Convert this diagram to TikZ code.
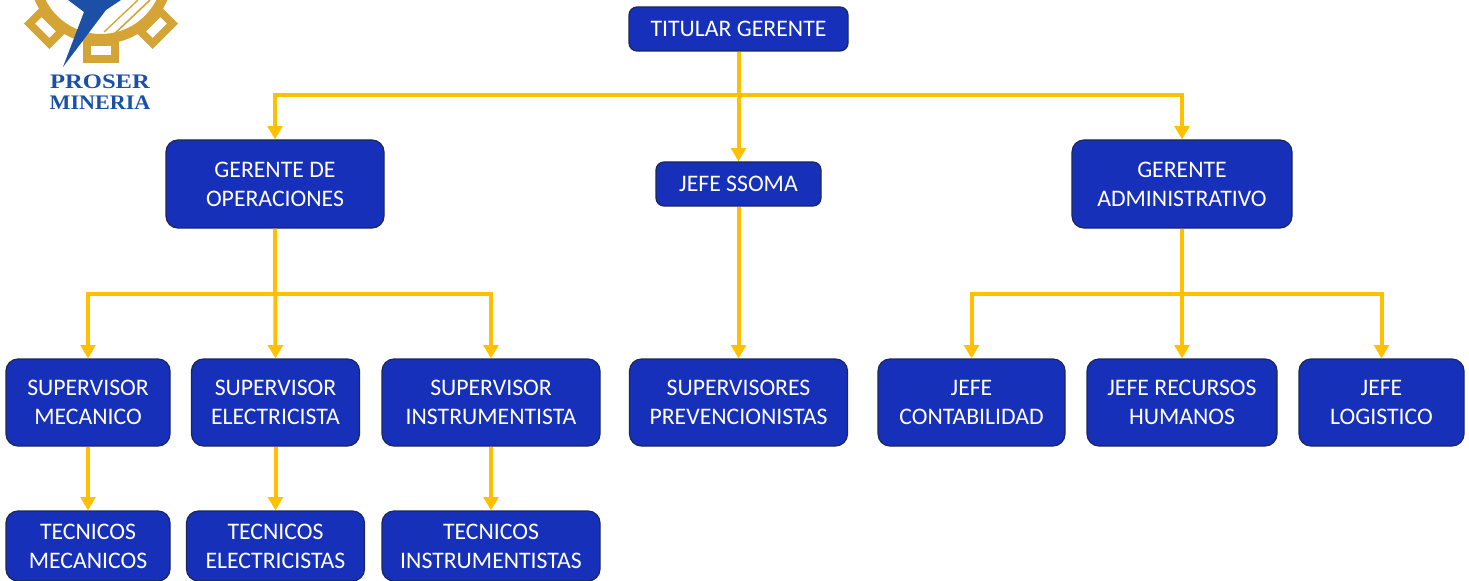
\documentclass[tikz,border=0pt]{standalone}
\usepackage{fontspec}
\setmainfont{Carlito}
\newfontfamily\logofont{Liberation Serif}
\usetikzlibrary{arrows.meta}
\definecolor{boxblue}{HTML}{1630BA}
\definecolor{boxedge}{HTML}{1B2756}
\definecolor{lineyel}{HTML}{FFC000}
\definecolor{gold}{HTML}{D4A536}
\definecolor{logoblue}{HTML}{1C4FA6}
\begin{document}
\begin{tikzpicture}[x=0.75pt,y=-0.75pt,
  box/.style={draw=boxedge, line width=0.9pt, fill=boxblue, rounded corners=9pt,
    text=white, align=center, font=\fontsize{17.8}{21.75}\selectfont, inner sep=0pt},
  sbox/.style={box, rounded corners=6pt},
  wh/.style 2 args={minimum width=#1*0.75pt, minimum height=#2*0.75pt},
  conn/.style={draw=lineyel, line width=3pt},
  arr/.style={conn, -{Triangle[width=11pt,length=10pt]}},
  logotext/.style={text=logoblue, font=\logofont\bfseries\fontsize{15.5}{16}\selectfont, inner sep=0pt}
]
\useasboundingbox (0,0) rectangle (1469,581);
\clip (0,0) rectangle (1469,581);

% ---------- logo ----------
\begin{scope}[shift={(101,-28)}]
  \foreach \a in {0,45,...,315}{
    \begin{scope}[rotate=\a]
      \fill[gold] (66,-18) rectangle (91,18);
      \fill[white] (74,-10) rectangle (83,10);
    \end{scope}
  }
  \draw[gold, line width=7.5pt] (0,0) circle[radius=67];
\end{scope}
\draw[gold, line width=1.2pt] (150,0) -- (110,38);
\draw[gold, line width=1pt] (138,0) -- (104,32);
\fill[logoblue] (68,0) -- (121,0) -- (106,10) -- (63,67) -- (84,12) -- cycle;
\node[logotext] (lp) at (100,82) {\scalebox{1.19}[1]{PROSER}};
\node[logotext] (lm) at (100,103) {\scalebox{1.07}[1]{MINERIA}};

% ---------- boxes ----------
\node[sbox, wh={219}{44}] (tit) at (738.5,29) {TITULAR GERENTE};
\node[box, wh={218}{88}] (gop) at (275,184) {GERENTE DE\\OPERACIONES};
\node[sbox, wh={165}{44}] (ssoma) at (738.5,184) {JEFE SSOMA};
\node[box, wh={220}{88}] (gadm) at (1182,184) {GERENTE\\ADMINISTRATIVO};

\node[box, wh={164}{87}] (smec) at (88,402.5) {SUPERVISOR\\MECANICO};
\node[box, wh={168}{87}] (sele) at (275.5,402.5) {SUPERVISOR\\ELECTRICISTA};
\node[box, wh={218}{87}] (sins) at (491,402.5) {SUPERVISOR\\INSTRUMENTISTA};
\node[box, wh={218}{87}] (sprev) at (738.5,402.5) {SUPERVISORES\\PREVENCIONISTAS};
\node[box, wh={187}{87}] (jcon) at (971.5,402.5) {JEFE\\CONTABILIDAD};
\node[box, wh={190}{87}] (jrh) at (1182,402.5) {JEFE RECURSOS\\HUMANOS};
\node[box, wh={165}{87}] (jlog) at (1381.5,402.5) {JEFE\\LOGISTICO};

\node[box, wh={164}{70}] (tmec) at (88,546) {TECNICOS\\MECANICOS};
\node[box, wh={178}{70}] (tele) at (275.5,546) {TECNICOS\\ELECTRICISTAS};
\node[box, wh={218}{70}] (tins) at (491,546) {TECNICOS\\INSTRUMENTISTAS};

% ---------- connectors ----------
\coordinate (b1) at (738.5,95);
\coordinate (b2) at (275,294);
\coordinate (b3) at (1182,294);

\draw[arr] (b1) -| (gop.north);
\draw[arr] (b1) -| (gadm.north);
\draw[arr] (tit.south) -- (ssoma.north);

\draw[conn] (gop.south) -- (b2);
\draw[arr] (b2) -| (smec.north);
\draw[arr] (b2) -| (sins.north);
\draw[arr] (gop.south) -- (sele.north);

\draw[arr] (ssoma.south) -- (sprev.north);

\draw[conn] (gadm.south) -- (b3);
\draw[arr] (b3) -| (jcon.north);
\draw[arr] (b3) -| (jlog.north);
\draw[arr] (gadm.south) -- (jrh.north);

\draw[arr] (smec.south) -- (tmec.north);
\draw[arr] (sele.south) -- (tele.north);
\draw[arr] (sins.south) -- (tins.north);
\end{tikzpicture}
\end{document}
